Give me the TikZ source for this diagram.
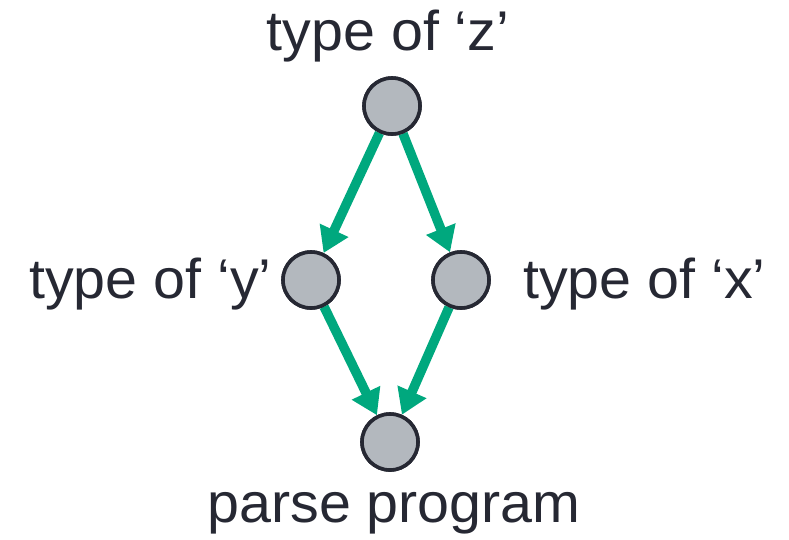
\documentclass[tikz,border=0pt]{standalone}
\usepackage{fontspec}
\setmainfont{Liberation Sans}
\usetikzlibrary{arrows.meta}
\definecolor{ink}{HTML}{262833}
\definecolor{dotfill}{HTML}{B3B8BE}
\definecolor{edge}{HTML}{00A87E}
\tikzset{
  dot/.style={circle,draw=ink,fill=dotfill,line width=3.6pt,minimum size=56pt,inner sep=0pt},
  lbl/.style={text=ink,font=\fontsize{56}{62}\selectfont,inner sep=0pt},
  arr/.style={draw=edge,line width=9.5pt,-{Triangle[length=25pt,width=30pt]}}
}
\newcommand{\widetxt}[1]{\scalebox{1.025}[1]{#1}}
\begin{document}
\begin{tikzpicture}[x=1pt,y=-1pt]
\useasboundingbox (0,0) rectangle (789,539);
\node[dot] (z) at (392,106) {};
\node[dot] (y) at (311,280) {};
\node[dot] (x) at (461,280) {};
\node[dot] (p) at (390,442) {};
\draw[arr] (z) -- (y);
\draw[arr] (z) -- (x);
\draw[arr] (y) -- (p);
\draw[arr] (x) -- (p);
\node[dot] at (z) {};
\node[dot] at (y) {};
\node[dot] at (x) {};
\node[dot] at (p) {};
\node[lbl,anchor=base] (tz) at (388,50) {\widetxt{type of ‘z’}};
\node[lbl,anchor=base east] (ty) at (272,298) {\widetxt{type of ‘y’}};
\node[lbl,anchor=base west] (tx) at (523,298) {\widetxt{type of ‘x’}};
\node[lbl,anchor=base] (tp) at (394,522) {\widetxt{parse program}};
\end{tikzpicture}
\end{document}
